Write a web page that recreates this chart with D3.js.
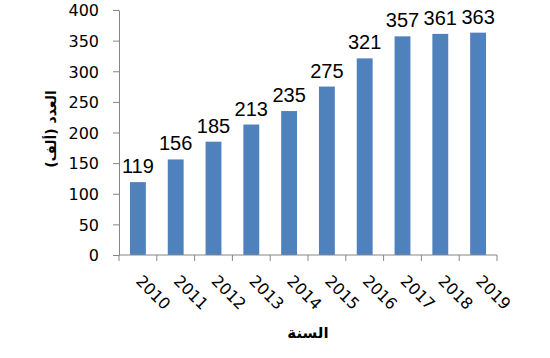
<!DOCTYPE html>
<html><head><meta charset="utf-8">
<script src="https://cdn.jsdelivr.net/npm/d3@7"></script>
<style>body{margin:0;background:#fff;} svg{display:block;}</style>
</head><body>
<svg id="c" width="550" height="358"></svg>
<script>
const years = ["2010","2011","2012","2013","2014","2015","2016","2017","2018","2019"];
const values = [119,156,185,213,235,275,321,357,361,363];
const yTicks = [0,50,100,150,200,250,300,350,400];
const yTitle = "العدد (ألف)";
const xTitle = "السنة";

(function(){
const svg = d3.select("#c");
const pL = 119, pR = 497, pT = 10, pB = 255;
const x = d3.scaleBand().domain(years).range([pL, pR]).paddingInner(0.58).paddingOuter(0.29);
const y = d3.scaleLinear().domain([0,400]).range([pB, pT]);
const axisColor = "#868686";

svg.selectAll("rect.bar").data(values).join("rect")
  .attr("class","bar")
  .attr("x",(d,i)=>x(years[i]))
  .attr("width",x.bandwidth())
  .attr("y",d=>y(d))
  .attr("height",d=>y(0)-y(d))
  .attr("fill","#4F81BD");

svg.selectAll("text.lbl").data(values).join("text")
  .attr("class","lbl")
  .attr("x",(d,i)=>x(years[i])+x.bandwidth()/2)
  .attr("y",d=>y(d)-9)
  .attr("text-anchor","middle")
  .attr("font-family","'Liberation Sans', Arial, sans-serif")
  .attr("font-size","20px")
  .attr("fill","#000")
  .text(d=>d);

const yAxis = d3.axisLeft(y).tickValues(yTicks).tickSize(6).tickPadding(14).tickSizeOuter(0);
const gy = svg.append("g").attr("transform",`translate(${pL},0)`).call(yAxis);
gy.select(".domain").attr("stroke",axisColor);
gy.selectAll(".tick line").attr("stroke",axisColor).attr("x1",0).attr("x2",-6);
gy.selectAll(".tick text").attr("x",-20).attr("font-family","'DejaVu Sans', sans-serif").attr("font-size","16px").attr("fill","#000").attr("dy","0.36em");

const gx = svg.append("g").attr("transform",`translate(0,${pB})`);
gx.append("line").attr("x1",pL).attr("x2",pR).attr("y1",0).attr("y2",0).attr("stroke",axisColor);
const bounds = d3.range(years.length+1).map(i=>pL+i*(pR-pL)/years.length);
gx.selectAll("line.tk").data(bounds).join("line").attr("class","tk")
  .attr("x1",d=>d).attr("x2",d=>d).attr("y1",0).attr("y2",6).attr("stroke",axisColor);
gx.selectAll("text.xl").data(years).join("text").attr("class","xl")
  .attr("transform",d=>`translate(${x(d)+x.bandwidth()/2-3},${27}) rotate(45)`)
  .attr("text-anchor","start")
  .attr("font-family","'DejaVu Sans', sans-serif")
  .attr("font-size","16px")
  .attr("fill","#000")
  .text(d=>d);

svg.append("text")
  .attr("transform","translate(56,129) rotate(-90)")
  .attr("text-anchor","middle")
  .attr("font-family","'DejaVu Sans', sans-serif")
  .attr("font-weight","bold")
  .attr("font-size","14px")
  .attr("fill","#000")
  .attr("direction","rtl")
  .text(yTitle);
svg.append("text")
  .attr("x",(pL+pR)/2)
  .attr("y",338)
  .attr("text-anchor","middle")
  .attr("font-family","'DejaVu Sans', sans-serif")
  .attr("font-weight","bold")
  .attr("font-size","15px")
  .attr("fill","#000")
  .text(xTitle);
})();
</script>
</body></html>
